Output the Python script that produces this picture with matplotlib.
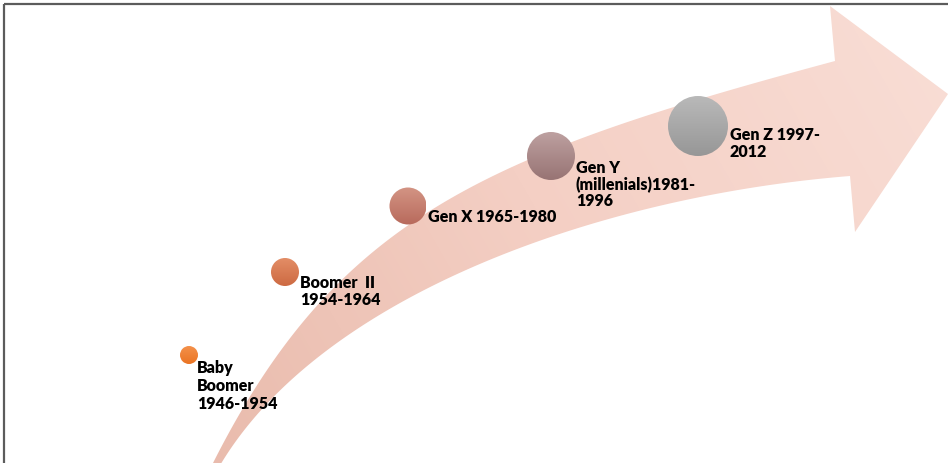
import numpy as np
import matplotlib
matplotlib.use("Agg")
import matplotlib.pyplot as plt
from matplotlib.patches import Polygon, Circle
from matplotlib.colors import LinearSegmentedColormap

# generations shown along the arrow
labels = ["Baby\nBoomer\n1946-1954",
          "Boomer  II\n1954-1964",
          "Gen X 1965-1980",
          "Gen Y\n(millenials)1981-\n1996",
          "Gen Z 1997-\n2012"]

# bubble layout (pixel units) and colours, top -> bottom shade
cx = [189, 285, 408, 551, 698]
cy = [356, 273, 207, 157, 127]
rad = [9, 14, 18.5, 24, 30]
top_col = ["#f4914a", "#e38d66", "#d39484", "#bda0a0", "#b9b9b9"]
bot_col = ["#ea7424", "#cd6a42", "#b86a5c", "#987474", "#979797"]
tx = [197, 300, 428, 576, 730]
ty = [360, 275, 209, 160, 127]
lsp = [1.16, 1.08, 1.0, 1.04, 1.08]

# curved arrow: bezier edges of the shaft plus the head
upper = [(211, 468), (336, 218), (485, 156), (835, 62)]
lower = [(219, 468), (320, 296), (600, 197), (850, 177)]
head = [(830, 7), (948, 95), (855, 233)]

W, H = 948, 464


def bezier(p, n=120):
    p = np.asarray(p, float)
    t = np.linspace(0, 1, n)[:, None]
    return ((1 - t) ** 3 * p[0] + 3 * (1 - t) ** 2 * t * p[1]
            + 3 * (1 - t) * t ** 2 * p[2] + t ** 3 * p[3])


fig = plt.figure(figsize=(W / 100, H / 100), dpi=100)
ax = fig.add_axes([0, 0, 1, 1])
ax.set_xlim(0, W)
ax.set_ylim(H, 0)
ax.axis("off")

# arrow body with a soft gradient, darker toward the tail
outline = np.vstack([bezier(upper), head, bezier(lower)[::-1]])
arrow = Polygon(outline, closed=True, facecolor="none", edgecolor="none")
ax.add_patch(arrow)
gx, gy = np.meshgrid(np.linspace(0, 1, 200), np.linspace(0, 1, 100))
grad = np.clip(0.75 * gx + 0.25 * (1 - gy), 0, 1)
cmap = LinearSegmentedColormap.from_list("arr", ["#e8b9aa", "#f4cfc4", "#f9ded6"])
im = ax.imshow(grad, cmap=cmap, extent=(150, W, H, 0), aspect="auto",
               interpolation="bilinear", zorder=1)
im.set_clip_path(arrow)

# shaded bubbles
vg = np.linspace(0, 1, 64)[:, None] * np.ones((1, 4))
for x, y, r, c1, c2 in zip(cx, cy, rad, top_col, bot_col):
    circ = Circle((x, y), r, facecolor="none", edgecolor="none")
    ax.add_patch(circ)
    cm = LinearSegmentedColormap.from_list("b", [c1, c2])
    b = ax.imshow(vg, cmap=cm, extent=(x - r, x + r, y + r, y - r),
                  aspect="auto", interpolation="bilinear", zorder=3)
    b.set_clip_path(circ)

for x, y, s, ls in zip(tx, ty, labels, lsp):
    ax.text(x, y, s, fontsize=11.5, fontweight="heavy", family="Lato",
            color="black", va="top", ha="left", linespacing=ls, zorder=4)

# frame along the top and left
ax.plot([4, 4], [H, 5], color="#5c5c5c", lw=1.6, solid_capstyle="butt", zorder=5)
ax.plot([4, W], [5, 5], color="#5c5c5c", lw=1.6, solid_capstyle="butt", zorder=5)

fig.savefig("out.png", dpi=100)
